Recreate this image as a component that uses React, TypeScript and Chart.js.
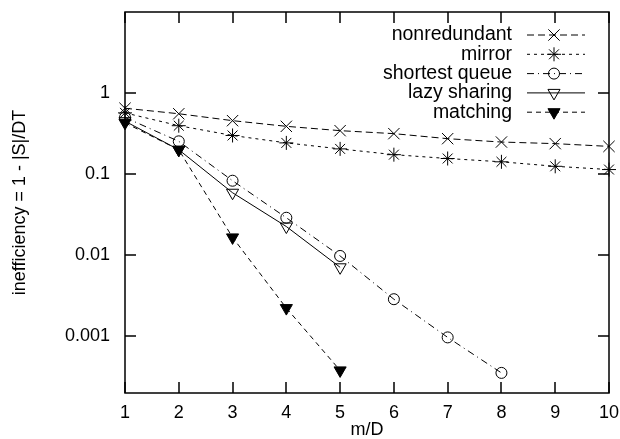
import React, { useEffect, useRef } from 'react';
import { Chart, registerables } from 'chart.js';
import { drawPoint } from 'chart.js/helpers';

Chart.register(...registerables);

const xValues = [1, 2, 3, 4, 5, 6, 7, 8, 9, 10];
const xTicks = [1, 2, 3, 4, 5, 6, 7, 8, 9, 10];
const yTicks = [0.001, 0.01, 0.1, 1];
const yTickLabels = ['0.001', '0.01', '0.1', '1'];
const seriesNames = ['nonredundant', 'mirror', 'shortest queue', 'lazy sharing', 'matching'];

const nonredundant = [0.65, 0.556, 0.457, 0.389, 0.344, 0.316, 0.274, 0.249, 0.238, 0.22];
const mirror = [0.57, 0.396, 0.3, 0.243, 0.205, 0.174, 0.156, 0.142, 0.125, 0.114];
const shortestQueue = [0.5, 0.254, 0.083, 0.029, 0.0098, 0.00287, 0.00097, 0.000354];
const lazySharing = [0.45, 0.2, 0.059, 0.0226, 0.0071];
const matching = [0.43, 0.2, 0.0166, 0.00223, 0.00038];

const FONT = 'Arial, "Liberation Sans", Helvetica, sans-serif';

const toPoints = (vals: number[]) => vals.map((v, i) => ({ x: xValues[i], y: v }));

const framePlugin = {
  id: 'frame',
  afterDraw(chart: any) {
    const { ctx, chartArea } = chart;
    const { left, right, top, bottom } = chartArea;
    const xs = chart.scales.x;
    const ys = chart.scales.y;
    ctx.save();
    ctx.strokeStyle = '#000';
    ctx.lineWidth = 1.5;
    ctx.setLineDash([]);
    ctx.strokeRect(left, top, right - left, bottom - top);
    const tl = 11;
    ctx.beginPath();
    xTicks.forEach((v) => {
      const px = Math.round(xs.getPixelForValue(v));
      ctx.moveTo(px, bottom);
      ctx.lineTo(px, bottom - tl);
      ctx.moveTo(px, top);
      ctx.lineTo(px, top + tl);
    });
    yTicks.forEach((v) => {
      const py = Math.round(ys.getPixelForValue(v));
      ctx.moveTo(left, py);
      ctx.lineTo(left + tl, py);
      ctx.moveTo(right, py);
      ctx.lineTo(right - tl, py);
    });
    ctx.stroke();

    // legend
    ctx.font = `19.5px ${FONT}`;
    ctx.fillStyle = '#000';
    ctx.textAlign = 'right';
    ctx.textBaseline = 'middle';
    chart.data.datasets.forEach((ds: any, i: number) => {
      const yy = top + 23 + i * 19.3;
      ctx.fillText(ds.label, right - 97, yy);
      ctx.save();
      ctx.lineWidth = ds.borderWidth;
      ctx.strokeStyle = ds.borderColor;
      ctx.setLineDash(ds.borderDash || []);
      ctx.beginPath();
      ctx.moveTo(right - 82, yy);
      ctx.lineTo(right - 24, yy);
      ctx.stroke();
      ctx.setLineDash([]);
      ctx.fillStyle = ds.pointBackgroundColor;
      ctx.strokeStyle = ds.pointBorderColor;
      ctx.lineWidth = ds.pointBorderWidth;
      drawPoint(
        ctx,
        { pointStyle: ds.pointStyle, rotation: ds.pointRotation || 0, radius: ds.pointRadius, borderWidth: ds.pointBorderWidth },
        right - 55,
        yy
      );
      ctx.restore();
    });
    ctx.restore();
  },
};

export default function App() {
  const ref = useRef<HTMLCanvasElement | null>(null);
  useEffect(() => {
    if (!ref.current) return;
    const base = {
      borderColor: '#000',
      borderWidth: 1,
      pointBorderColor: '#000',
      pointBorderWidth: 1,
      pointBackgroundColor: 'rgba(0,0,0,0)',
      fill: false,
      tension: 0,
      clip: false as any,
    };
    const chart = new Chart(ref.current, {
      type: 'line',
      data: {
        datasets: [
          { ...base, label: seriesNames[0], data: toPoints(nonredundant), borderDash: [7, 4], pointStyle: 'crossRot', pointRadius: 8 },
          { ...base, label: seriesNames[1], data: toPoints(mirror), borderDash: [3, 4], pointStyle: 'star', pointRadius: 7 },
          { ...base, label: seriesNames[2], data: toPoints(shortestQueue), borderDash: [7, 4, 1, 4], pointStyle: 'circle', pointRadius: 5.5 },
          { ...base, label: seriesNames[3], data: toPoints(lazySharing), borderDash: [], pointStyle: 'triangle', pointRotation: 180, pointRadius: 7 },
          { ...base, label: seriesNames[4], data: toPoints(matching), borderDash: [5, 4], pointStyle: 'triangle', pointRotation: 180, pointRadius: 7, pointBackgroundColor: '#000' },
        ] as any,
      },
      options: {
        animation: false,
        responsive: false,
        layout: { padding: { left: 0, top: 12, right: 11, bottom: 0 } },
        plugins: { legend: { display: false }, tooltip: { enabled: false } },
        scales: {
          x: {
            type: 'linear',
            min: 1,
            max: 10,
            grid: { display: false, drawTicks: false },
            border: { display: false },
            afterBuildTicks: (s: any) => {
              s.ticks = xTicks.map((v) => ({ value: v }));
            },
            afterFit: (s: any) => {
              s.height = 46;
              s.paddingLeft = 0;
              s.paddingRight = 0;
            },
            ticks: {
              autoSkip: false,
              maxRotation: 0,
              padding: 9,
              color: '#000',
              font: { family: FONT, size: 18 },
              callback: (v: any) => String(v),
            },
            title: {
              display: true,
              text: 'm/D',
              color: '#000',
              font: { family: FONT, size: 18, lineHeight: 1 },
              padding: { top: 0, bottom: 0 },
            },
          },
          y: {
            type: 'logarithmic',
            min: 0.0002,
            max: 10,
            grid: { display: false, drawTicks: false },
            border: { display: false },
            afterBuildTicks: (s: any) => {
              s.ticks = yTicks.map((v) => ({ value: v }));
            },
            afterFit: (s: any) => {
              s.width = 125;
              s.paddingTop = 0;
              s.paddingBottom = 0;
            },
            ticks: {
              autoSkip: false,
              padding: 15,
              color: '#000',
              font: { family: FONT, size: 18 },
              callback: (v: any) => {
                const i = yTicks.indexOf(Number(v));
                return i >= 0 ? yTickLabels[i] : '';
              },
            },
            title: {
              display: true,
              text: 'inefficiency = 1 - |S|/DT',
              color: '#000',
              font: { family: FONT, size: 18, lineHeight: 1 },
              padding: { top: 11, bottom: 0 },
            },
          },
        },
      } as any,
      plugins: [framePlugin],
    });
    return () => chart.destroy();
  }, []);
  return (
    <div style={{ position: 'absolute', left: 0, top: 0, width: 620, height: 439 }}>
      <canvas ref={ref} width={620} height={439} style={{ display: 'block' }} />
    </div>
  );
}
